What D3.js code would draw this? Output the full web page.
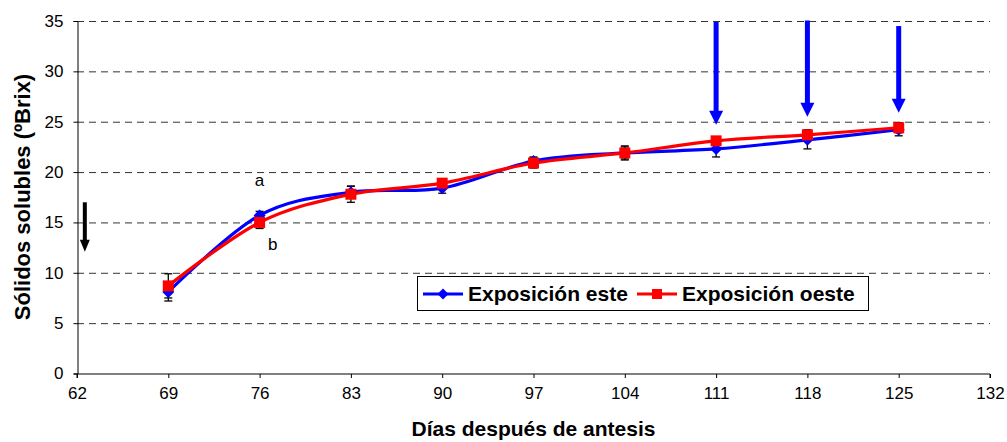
<!DOCTYPE html>
<html><head><meta charset="utf-8">
<script src="https://cdn.jsdelivr.net/npm/d3@7"></script>
<style>body{margin:0;background:#fff;} svg{display:block;font-family:"Liberation Sans",Arial,sans-serif;}</style>
</head><body>
<svg id="c" width="1007" height="442"></svg>
<script>
const days = [69, 76, 83, 90, 97, 104, 111, 118, 125];
const esteValues = [8.1, 15.7, 18.0, 18.4, 21.1, 21.9, 22.3, 23.2, 24.2];
const esteErr    = [0.9, 0.4, 0.6, 0.5, 0.4, 0.6, 0.8, 0.9, 0.6];
const oesteValues = [8.7, 15.0, 17.8, 18.9, 20.9, 21.9, 23.1, 23.7, 24.4];
const oesteErr    = [1.2, 0.6, 0.8, 0.4, 0.5, 0.7, 0.4, 0.5, 0.5];
const xTicks = [62, 69, 76, 83, 90, 97, 104, 111, 118, 125, 132];
const yTicks = [0, 5, 10, 15, 20, 25, 30, 35];
const seriesNames = ["Exposición este", "Exposición oeste"];
const letters = [{t:"a", day:76, v:18.6}, {t:"b", day:77, v:12.3}];
const blueArrows = [{day:111, from:34.9, to:24.7}, {day:118, from:35.05, to:25.5}, {day:125, from:34.5, to:25.9}];
const blackArrows = [{day:62.6, from:17.0, to:12.1}];

const svg = d3.select("#c");
const L = 77, R = 990, T = 21, B = 373.5;
const x = d3.scaleLinear().domain([62,132]).range([L,R]);
const y = d3.scaleLinear().domain([0,35]).range([B,T]);

// grid
svg.append("g").selectAll("line").data(yTicks.filter(d=>d>0)).join("line")
  .attr("x1",L).attr("x2",R).attr("y1",d=>y(d)+0.5).attr("y2",d=>y(d)+0.5)
  .attr("stroke","#333").attr("stroke-width",1).attr("stroke-dasharray","7,5");

// axes
const ya = svg.append("g").attr("transform",`translate(${L+0.5},0)`)
  .call(d3.axisLeft(y).tickValues(yTicks).tickSize(4).tickPadding(10));
const xa = svg.append("g").attr("transform",`translate(0,${B+0.5})`)
  .call(d3.axisBottom(x).tickValues(xTicks).tickSize(4).tickPadding(9));
[ya,xa].forEach(a=>{
  a.select(".domain").attr("stroke","#000");
  a.selectAll(".tick line").attr("stroke","#000");
  a.selectAll("text").attr("font-size",17).attr("fill","#000").attr("font-family","Liberation Sans, Arial, sans-serif");
});
xa.select(".domain").attr("d",`M${L},4V0H${R}V4`);

// axis titles
svg.append("text").attr("x",(L+R)/2).attr("y",436).attr("text-anchor","middle")
  .attr("font-weight","bold").attr("font-size",21).text("Días después de antesis");
svg.append("text").attr("transform","translate(30,197) rotate(-90)").attr("text-anchor","middle")
  .attr("font-weight","bold").attr("font-size",22).text("Sólidos solubles (ºBrix)");

const series = [
  {vals: esteValues, err: esteErr, color:"#0000ff", shape:"diamond"},
  {vals: oesteValues, err: oesteErr, color:"#ff0000", shape:"square"}
];

// error bars
series.forEach(s=>{
  const g = svg.append("g").attr("stroke","#000").attr("stroke-width",1.3);
  days.forEach((d,i)=>{
    const cx = x(d), lo = y(s.vals[i]-s.err[i]), hi = y(s.vals[i]+s.err[i]);
    g.append("line").attr("x1",cx).attr("x2",cx).attr("y1",lo).attr("y2",hi);
    g.append("line").attr("x1",cx-4).attr("x2",cx+4).attr("y1",lo).attr("y2",lo);
    g.append("line").attr("x1",cx-4).attr("x2",cx+4).attr("y1",hi).attr("y2",hi);
  });
});

const line = d3.line().x((d,i)=>x(days[i])).y(d=>y(d)).curve(d3.curveCatmullRom.alpha(0));
series.forEach(s=>{
  svg.append("path").attr("d",line(s.vals)).attr("fill","none")
    .attr("stroke",s.color).attr("stroke-width",3.2);
});
function marker(g, shape, cx, cy, color, size){
  if(shape==="diamond"){
    g.append("path").attr("d",`M${cx},${cy-size}L${cx+size},${cy}L${cx},${cy+size}L${cx-size},${cy}Z`).attr("fill",color);
  } else {
    g.append("rect").attr("x",cx-size).attr("y",cy-size).attr("width",2*size).attr("height",2*size).attr("fill",color);
  }
}
series.forEach(s=>{
  const g = svg.append("g");
  days.forEach((d,i)=> marker(g, s.shape, x(d), y(s.vals[i]), s.color, s.shape==="diamond"?6:5.5));
});

// letters
svg.append("g").selectAll("text").data(letters).join("text")
  .attr("x",d=>x(d.day)).attr("y",d=>y(d.v)).attr("text-anchor","middle")
  .attr("font-size",17).text(d=>d.t);

// arrows
function arrow(a, color, shaft, headW, headL){
  const cx = x(a.day), y0 = y(a.from), y1 = y(a.to);
  svg.append("line").attr("x1",cx).attr("x2",cx).attr("y1",y0).attr("y2",y1-headL+1)
    .attr("stroke",color).attr("stroke-width",shaft);
  svg.append("path").attr("d",`M${cx-headW/2},${y1-headL}L${cx+headW/2},${y1-headL}L${cx},${y1}Z`).attr("fill",color);
}
blueArrows.forEach(a=>arrow(a,"#0000ff",5,14,14));
blackArrows.forEach(a=>arrow(a,"#000",4,10,12));

// legend
const lg = svg.append("g");
lg.append("rect").attr("x",417.5).attr("y",276.5).attr("width",451).attr("height",34)
  .attr("fill","#fff").attr("stroke","#000").attr("stroke-width",1);
const items = [{x:423, tx:468}, {x:637, tx:682}];
series.forEach((s,i)=>{
  const it = items[i], cy = 294;
  lg.append("line").attr("x1",it.x).attr("x2",it.x+40).attr("y1",cy).attr("y2",cy)
    .attr("stroke",s.color).attr("stroke-width",3.2);
  marker(lg, s.shape, it.x+20, cy, s.color, s.shape==="diamond"?5.5:5);
  lg.append("text").attr("x",it.tx).attr("y",cy+7).attr("font-size",21).attr("font-weight","bold")
    .text(seriesNames[i]);
});
</script>
</body></html>
